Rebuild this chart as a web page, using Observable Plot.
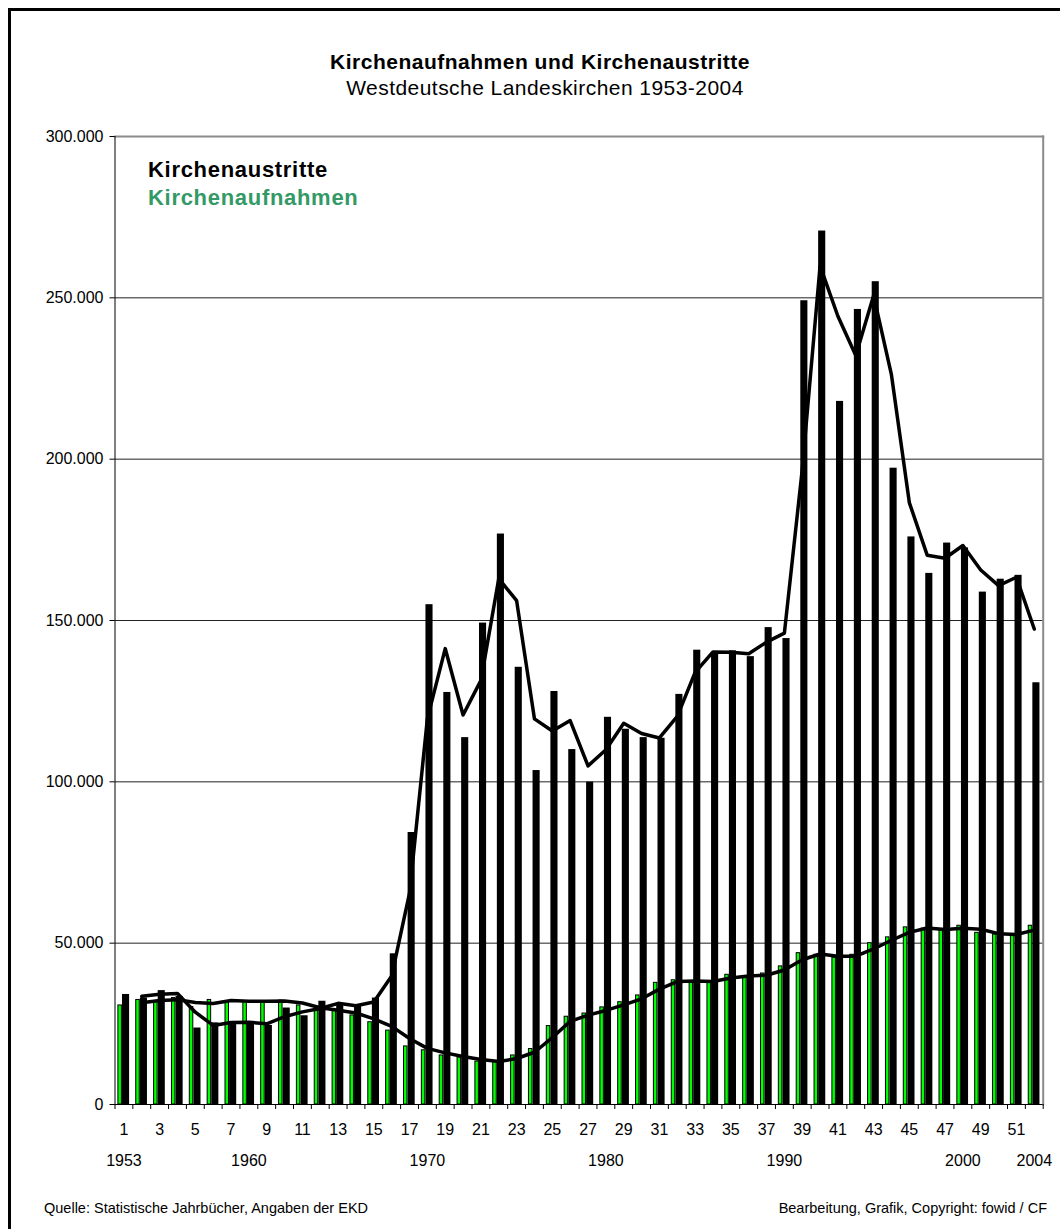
<!DOCTYPE html>
<html><head><meta charset="utf-8">
<script src="https://cdn.jsdelivr.net/npm/d3@7"></script>
<script src="https://cdn.jsdelivr.net/npm/@observablehq/plot@0.6"></script>
<style>
body{margin:0;background:#fff;}
#page{position:relative;width:1060px;height:1229px;overflow:hidden;font-family:"Liberation Sans",Arial,sans-serif;color:#000;background:#fff;}
.t{position:absolute;line-height:1;white-space:nowrap;}
#frame{position:absolute;left:8px;top:8px;width:1080px;height:1260px;border-left:3.5px solid #000;border-top:3.5px solid #000;}
#chart{position:absolute;left:0;top:110px;}
</style></head><body>
<div id="page">
  <div id="frame"></div>
  <div class="t" style="left:10px;width:1060px;text-align:center;top:51px;font-size:21px;font-weight:bold;letter-spacing:0.5px">Kirchenaufnahmen und Kirchenaustritte</div>
  <div class="t" style="left:15px;width:1060px;text-align:center;top:76.5px;font-size:21px;letter-spacing:0.45px">Westdeutsche Landeskirchen 1953-2004</div>
  <div id="chart"></div>
  <div class="t" style="left:148px;top:158.7px;font-size:22px;font-weight:bold;letter-spacing:0.7px;z-index:2">Kirchenaustritte</div>
  <div class="t" style="left:148px;top:187.1px;font-size:22px;font-weight:bold;letter-spacing:0.7px;color:#339966;z-index:2">Kirchenaufnahmen</div>
  <div class="t" style="left:44px;top:1200.7px;font-size:14.5px">Quelle: Statistische Jahrbücher, Angaben der EKD</div>
  <div class="t" style="right:13px;top:1200.7px;font-size:14.5px">Bearbeitung, Grafik, Copyright: fowid / CF</div>
</div>
<script>
// Categories: running index of the years 1953..2004
const categories = [1,2,3,4,5,6,7,8,9,10,11,12,13,14,15,16,17,18,19,20,21,22,23,24,25,26,
  27,28,29,30,31,32,33,34,35,36,37,38,39,40,41,42,43,44,45,46,47,48,49,50,51,52];

// Kirchenaufnahmen (green bars)
const aufnahmen = [30700,32400,32000,33000,30200,32400,32000,32000,32000,32200,30700,29300,29100,27600,
  25500,22900,18000,16800,15200,14600,13300,13300,15200,17200,24300,27200,28200,30100,31700,33800,
  37700,38500,38000,38200,40200,39500,40600,42800,46900,46400,45500,46400,50000,51800,54900,54500,
  53900,55400,53200,52700,52700,55400];

// Kirchenaustritte (black bars)
const austritte = [34100,33000,35300,33500,23700,25300,25500,25500,24500,29900,27500,32000,30700,30500,
  33000,46700,84300,154900,127700,113700,149200,176800,135500,103500,128000,110000,99900,120000,
  116300,113700,113500,127100,140800,139700,140600,138800,147800,144400,249100,270700,217900,246400,
  255000,197200,175900,164600,174000,172500,158800,162800,164000,130700];

// Axis ticks and labels
const yTicks = [0,50000,100000,150000,200000,250000,300000];
const yGrid = [50000,100000,150000,200000,250000];
const xTickLabels = [1,3,5,7,9,11,13,15,17,19,21,23,25,27,29,31,33,35,37,39,41,43,45,47,49,51];
const yearTickKs = [1,8,18,28,38,48,52];
const yearTickTexts = ["1953","1960","1970","1980","1990","2000","2004"];
const lastCategory = [52];

const rows = categories.map((k, i) => ({k, aufnahmen: aufnahmen[i], austritte: austritte[i]}));
const yearLabel = new Map(yearTickKs.map((k, i) => [k, yearTickTexts[i]]));
const fmt = d => d3.format(",")(d).replace(/,/g, ".");

const W = 1060, mL = 114.5, mR = 17.3;
const bw = (W - mL - mR) / categories.length;

const chart = Plot.plot({
  width: W, height: 1070,
  marginLeft: mL, marginRight: mR, marginTop: 26, marginBottom: 76,
  x: {type: "band", domain: categories, paddingInner: 0, paddingOuter: 0, axis: null},
  y: {domain: [0, 300000], axis: null},
  style: {fontFamily: "'Liberation Sans', Arial, sans-serif", fontSize: "16px", background: "transparent", color: "#000", overflow: "visible"},
  marks: [
    Plot.gridY(yGrid, {stroke: "#222", strokeOpacity: 1}),
    Plot.frame({anchor: "top", stroke: "#8a8a8a", strokeWidth: 2}),
    Plot.frame({anchor: "right", stroke: "#8a8a8a", strokeWidth: 2}),
    Plot.barY(rows, {x: "k", y: "aufnahmen", fill: "#00ff00", stroke: "#000", strokeWidth: 1,
      insetLeft: 3.4, insetRight: bw - 6.9}),
    Plot.barY(rows, {x: "k", y: "austritte", fill: "#000", insetLeft: 7.5, insetRight: bw - 14.6}),
    Plot.lineY(rows, Plot.windowY({k: 2, anchor: "end", strict: true},
      {x: "k", y: "austritte", stroke: "#000", strokeWidth: 3.5, strokeLinejoin: "round"})),
    Plot.lineY(rows, Plot.windowY({k: 2, anchor: "end", strict: true},
      {x: "k", y: "aufnahmen", stroke: "#000", strokeWidth: 3.5, strokeLinejoin: "round"})),
    Plot.frame({anchor: "left", stroke: "#000"}),
    Plot.ruleY([0], {stroke: "#000"}),
    Plot.axisY(yTicks, {tickSize: 5, tickPadding: 6.5, tickFormat: fmt, fontSize: 16, label: null}),
    Plot.axisX(categories, {tickSize: 5, tickFormat: () => "", dx: -bw / 2, label: null}),
    Plot.axisX(lastCategory, {tickSize: 5, tickFormat: () => "", dx: bw / 2, label: null}),
    Plot.axisX(xTickLabels, {tickSize: 0, tickPadding: 19.6, fontSize: 16, label: null}),
    Plot.axisX(yearTickKs, {tickSize: 0, tickPadding: 50.6, fontSize: 16, tickFormat: k => yearLabel.get(k), label: null})
  ]
});
document.getElementById("chart").appendChild(chart);
</script>
</body></html>
